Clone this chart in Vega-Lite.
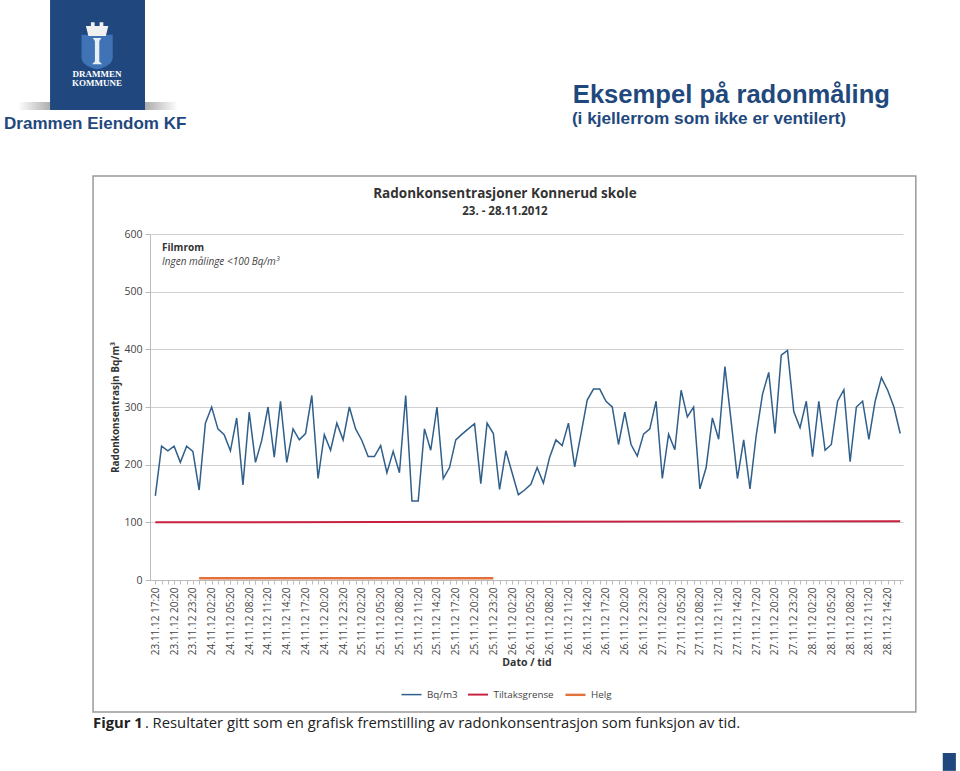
{"$schema":"https://vega.github.io/schema/vega-lite/v6.json","width":753,"height":346,"autosize":{"type":"none"},"padding":{"left":150,"top":234,"right":57,"bottom":191},"background":"#ffffff",
"datasets":{"radon":[
{"t":"2012-11-23T17:20:00","s":"Bq/m3","v":146},{"t":"2012-11-23T18:20:00","s":"Bq/m3","v":232},{"t":"2012-11-23T19:20:00","s":"Bq/m3","v":224},{"t":"2012-11-23T20:20:00","s":"Bq/m3","v":232},{"t":"2012-11-23T21:20:00","s":"Bq/m3","v":204},{"t":"2012-11-23T22:20:00","s":"Bq/m3","v":232},{"t":"2012-11-23T23:20:00","s":"Bq/m3","v":223},
{"t":"2012-11-24T00:20:00","s":"Bq/m3","v":156},{"t":"2012-11-24T01:20:00","s":"Bq/m3","v":272},{"t":"2012-11-24T02:20:00","s":"Bq/m3","v":300},{"t":"2012-11-24T03:20:00","s":"Bq/m3","v":262},{"t":"2012-11-24T04:20:00","s":"Bq/m3","v":252},{"t":"2012-11-24T05:20:00","s":"Bq/m3","v":224},{"t":"2012-11-24T06:20:00","s":"Bq/m3","v":281},{"t":"2012-11-24T07:20:00","s":"Bq/m3","v":165},{"t":"2012-11-24T08:20:00","s":"Bq/m3","v":291},{"t":"2012-11-24T09:20:00","s":"Bq/m3","v":204},{"t":"2012-11-24T10:20:00","s":"Bq/m3","v":242},{"t":"2012-11-24T11:20:00","s":"Bq/m3","v":300},{"t":"2012-11-24T12:20:00","s":"Bq/m3","v":213},{"t":"2012-11-24T13:20:00","s":"Bq/m3","v":310},{"t":"2012-11-24T14:20:00","s":"Bq/m3","v":204},{"t":"2012-11-24T15:20:00","s":"Bq/m3","v":262},{"t":"2012-11-24T16:20:00","s":"Bq/m3","v":243},{"t":"2012-11-24T17:20:00","s":"Bq/m3","v":254},{"t":"2012-11-24T18:20:00","s":"Bq/m3","v":320},{"t":"2012-11-24T19:20:00","s":"Bq/m3","v":176},{"t":"2012-11-24T20:20:00","s":"Bq/m3","v":252},{"t":"2012-11-24T21:20:00","s":"Bq/m3","v":225},{"t":"2012-11-24T22:20:00","s":"Bq/m3","v":272},{"t":"2012-11-24T23:20:00","s":"Bq/m3","v":243},
{"t":"2012-11-25T00:20:00","s":"Bq/m3","v":300},{"t":"2012-11-25T01:20:00","s":"Bq/m3","v":262},{"t":"2012-11-25T02:20:00","s":"Bq/m3","v":242},{"t":"2012-11-25T03:20:00","s":"Bq/m3","v":214},{"t":"2012-11-25T04:20:00","s":"Bq/m3","v":214},{"t":"2012-11-25T05:20:00","s":"Bq/m3","v":233},{"t":"2012-11-25T06:20:00","s":"Bq/m3","v":186},{"t":"2012-11-25T07:20:00","s":"Bq/m3","v":223},{"t":"2012-11-25T08:20:00","s":"Bq/m3","v":186},{"t":"2012-11-25T09:20:00","s":"Bq/m3","v":320},{"t":"2012-11-25T10:20:00","s":"Bq/m3","v":137},{"t":"2012-11-25T11:20:00","s":"Bq/m3","v":137},{"t":"2012-11-25T12:20:00","s":"Bq/m3","v":262},{"t":"2012-11-25T13:20:00","s":"Bq/m3","v":225},{"t":"2012-11-25T14:20:00","s":"Bq/m3","v":300},{"t":"2012-11-25T15:20:00","s":"Bq/m3","v":176},{"t":"2012-11-25T16:20:00","s":"Bq/m3","v":195},{"t":"2012-11-25T17:20:00","s":"Bq/m3","v":243},{"t":"2012-11-25T18:20:00","s":"Bq/m3","v":253},{"t":"2012-11-25T19:20:00","s":"Bq/m3","v":262},{"t":"2012-11-25T20:20:00","s":"Bq/m3","v":271},{"t":"2012-11-25T21:20:00","s":"Bq/m3","v":167},{"t":"2012-11-25T22:20:00","s":"Bq/m3","v":272},{"t":"2012-11-25T23:20:00","s":"Bq/m3","v":254},
{"t":"2012-11-26T00:20:00","s":"Bq/m3","v":157},{"t":"2012-11-26T01:20:00","s":"Bq/m3","v":224},{"t":"2012-11-26T02:20:00","s":"Bq/m3","v":186},{"t":"2012-11-26T03:20:00","s":"Bq/m3","v":148},{"t":"2012-11-26T04:20:00","s":"Bq/m3","v":156},{"t":"2012-11-26T05:20:00","s":"Bq/m3","v":166},{"t":"2012-11-26T06:20:00","s":"Bq/m3","v":195},{"t":"2012-11-26T07:20:00","s":"Bq/m3","v":168},{"t":"2012-11-26T08:20:00","s":"Bq/m3","v":213},{"t":"2012-11-26T09:20:00","s":"Bq/m3","v":243},{"t":"2012-11-26T10:20:00","s":"Bq/m3","v":233},{"t":"2012-11-26T11:20:00","s":"Bq/m3","v":272},{"t":"2012-11-26T12:20:00","s":"Bq/m3","v":196},{"t":"2012-11-26T13:20:00","s":"Bq/m3","v":253},{"t":"2012-11-26T14:20:00","s":"Bq/m3","v":312},{"t":"2012-11-26T15:20:00","s":"Bq/m3","v":331},{"t":"2012-11-26T16:20:00","s":"Bq/m3","v":331},{"t":"2012-11-26T17:20:00","s":"Bq/m3","v":310},{"t":"2012-11-26T18:20:00","s":"Bq/m3","v":300},{"t":"2012-11-26T19:20:00","s":"Bq/m3","v":235},{"t":"2012-11-26T20:20:00","s":"Bq/m3","v":291},{"t":"2012-11-26T21:20:00","s":"Bq/m3","v":235},{"t":"2012-11-26T22:20:00","s":"Bq/m3","v":215},{"t":"2012-11-26T23:20:00","s":"Bq/m3","v":253},
{"t":"2012-11-27T00:20:00","s":"Bq/m3","v":262},{"t":"2012-11-27T01:20:00","s":"Bq/m3","v":310},{"t":"2012-11-27T02:20:00","s":"Bq/m3","v":176},{"t":"2012-11-27T03:20:00","s":"Bq/m3","v":253},{"t":"2012-11-27T04:20:00","s":"Bq/m3","v":226},{"t":"2012-11-27T05:20:00","s":"Bq/m3","v":329},{"t":"2012-11-27T06:20:00","s":"Bq/m3","v":283},{"t":"2012-11-27T07:20:00","s":"Bq/m3","v":300},{"t":"2012-11-27T08:20:00","s":"Bq/m3","v":158},{"t":"2012-11-27T09:20:00","s":"Bq/m3","v":195},{"t":"2012-11-27T10:20:00","s":"Bq/m3","v":281},{"t":"2012-11-27T11:20:00","s":"Bq/m3","v":244},{"t":"2012-11-27T12:20:00","s":"Bq/m3","v":370},{"t":"2012-11-27T13:20:00","s":"Bq/m3","v":275},{"t":"2012-11-27T14:20:00","s":"Bq/m3","v":176},{"t":"2012-11-27T15:20:00","s":"Bq/m3","v":243},{"t":"2012-11-27T16:20:00","s":"Bq/m3","v":158},{"t":"2012-11-27T17:20:00","s":"Bq/m3","v":251},{"t":"2012-11-27T18:20:00","s":"Bq/m3","v":322},{"t":"2012-11-27T19:20:00","s":"Bq/m3","v":360},{"t":"2012-11-27T20:20:00","s":"Bq/m3","v":254},{"t":"2012-11-27T21:20:00","s":"Bq/m3","v":390},{"t":"2012-11-27T22:20:00","s":"Bq/m3","v":398},{"t":"2012-11-27T23:20:00","s":"Bq/m3","v":292},
{"t":"2012-11-28T00:20:00","s":"Bq/m3","v":264},{"t":"2012-11-28T01:20:00","s":"Bq/m3","v":310},{"t":"2012-11-28T02:20:00","s":"Bq/m3","v":214},{"t":"2012-11-28T03:20:00","s":"Bq/m3","v":310},{"t":"2012-11-28T04:20:00","s":"Bq/m3","v":225},{"t":"2012-11-28T05:20:00","s":"Bq/m3","v":235},{"t":"2012-11-28T06:20:00","s":"Bq/m3","v":310},{"t":"2012-11-28T07:20:00","s":"Bq/m3","v":330},{"t":"2012-11-28T08:20:00","s":"Bq/m3","v":205},{"t":"2012-11-28T09:20:00","s":"Bq/m3","v":300},{"t":"2012-11-28T10:20:00","s":"Bq/m3","v":310},{"t":"2012-11-28T11:20:00","s":"Bq/m3","v":244},{"t":"2012-11-28T12:20:00","s":"Bq/m3","v":310},{"t":"2012-11-28T13:20:00","s":"Bq/m3","v":351},{"t":"2012-11-28T14:20:00","s":"Bq/m3","v":329},{"t":"2012-11-28T15:20:00","s":"Bq/m3","v":300},{"t":"2012-11-28T16:20:00","s":"Bq/m3","v":254},
{"t":"2012-11-23T17:20:00","s":"Tiltaksgrense","v":100},{"t":"2012-11-28T16:20:00","s":"Tiltaksgrense","v":102},
{"t":"2012-11-24T00:20:00","s":"Helg","v":3},{"t":"2012-11-25T23:20:00","s":"Helg","v":3}
]},
"layer":[
{"data":{"values":[{"a":"frame"}]},"mark":{"type":"rect","fill":"transparent","stroke":"#9a9a9a","strokeWidth":1.5},"encoding":{"x":{"datum":{"year":2012,"month":11,"date":23,"hours":7,"minutes":23},"type":"temporal","scale":{"domain":["2012-11-23T16:29:00","2012-11-28T16:47:00"],"nice":false},"axis":{"title":"Dato / tid","titleFont":"Open Sans","titleFontSize":10.5,"titleFontWeight":"bold","titleColor":"#333333","titlePadding":3,"grid":false,"domainColor":"#bbbbbb","tickColor":"#bbbbbb","tickSize":4,"tickCount":120,"labelFont":"Open Sans","labelFontSize":10,"labelColor":"#444444","labelAngle":270,"labelAlign":"right","labelBaseline":"middle","labelPadding":3,"labelOverlap":false,"labelBound":false,"labelFlush":false,
"values":["2012-11-23T17:20:00","2012-11-23T18:20:00","2012-11-23T19:20:00","2012-11-23T20:20:00","2012-11-23T21:20:00","2012-11-23T22:20:00","2012-11-23T23:20:00","2012-11-24T00:20:00","2012-11-24T01:20:00","2012-11-24T02:20:00","2012-11-24T03:20:00","2012-11-24T04:20:00","2012-11-24T05:20:00","2012-11-24T06:20:00","2012-11-24T07:20:00","2012-11-24T08:20:00","2012-11-24T09:20:00","2012-11-24T10:20:00","2012-11-24T11:20:00","2012-11-24T12:20:00","2012-11-24T13:20:00","2012-11-24T14:20:00","2012-11-24T15:20:00","2012-11-24T16:20:00","2012-11-24T17:20:00","2012-11-24T18:20:00","2012-11-24T19:20:00","2012-11-24T20:20:00","2012-11-24T21:20:00","2012-11-24T22:20:00","2012-11-24T23:20:00","2012-11-25T00:20:00","2012-11-25T01:20:00","2012-11-25T02:20:00","2012-11-25T03:20:00","2012-11-25T04:20:00","2012-11-25T05:20:00","2012-11-25T06:20:00","2012-11-25T07:20:00","2012-11-25T08:20:00","2012-11-25T09:20:00","2012-11-25T10:20:00","2012-11-25T11:20:00","2012-11-25T12:20:00","2012-11-25T13:20:00","2012-11-25T14:20:00","2012-11-25T15:20:00","2012-11-25T16:20:00","2012-11-25T17:20:00","2012-11-25T18:20:00","2012-11-25T19:20:00","2012-11-25T20:20:00","2012-11-25T21:20:00","2012-11-25T22:20:00","2012-11-25T23:20:00","2012-11-26T00:20:00","2012-11-26T01:20:00","2012-11-26T02:20:00","2012-11-26T03:20:00","2012-11-26T04:20:00","2012-11-26T05:20:00","2012-11-26T06:20:00","2012-11-26T07:20:00","2012-11-26T08:20:00","2012-11-26T09:20:00","2012-11-26T10:20:00","2012-11-26T11:20:00","2012-11-26T12:20:00","2012-11-26T13:20:00","2012-11-26T14:20:00","2012-11-26T15:20:00","2012-11-26T16:20:00","2012-11-26T17:20:00","2012-11-26T18:20:00","2012-11-26T19:20:00","2012-11-26T20:20:00","2012-11-26T21:20:00","2012-11-26T22:20:00","2012-11-26T23:20:00","2012-11-27T00:20:00","2012-11-27T01:20:00","2012-11-27T02:20:00","2012-11-27T03:20:00","2012-11-27T04:20:00","2012-11-27T05:20:00","2012-11-27T06:20:00","2012-11-27T07:20:00","2012-11-27T08:20:00","2012-11-27T09:20:00","2012-11-27T10:20:00","2012-11-27T11:20:00","2012-11-27T12:20:00","2012-11-27T13:20:00","2012-11-27T14:20:00","2012-11-27T15:20:00","2012-11-27T16:20:00","2012-11-27T17:20:00","2012-11-27T18:20:00","2012-11-27T19:20:00","2012-11-27T20:20:00","2012-11-27T21:20:00","2012-11-27T22:20:00","2012-11-27T23:20:00","2012-11-28T00:20:00","2012-11-28T01:20:00","2012-11-28T02:20:00","2012-11-28T03:20:00","2012-11-28T04:20:00","2012-11-28T05:20:00","2012-11-28T06:20:00","2012-11-28T07:20:00","2012-11-28T08:20:00","2012-11-28T09:20:00","2012-11-28T10:20:00","2012-11-28T11:20:00","2012-11-28T12:20:00","2012-11-28T13:20:00","2012-11-28T14:20:00","2012-11-28T15:20:00","2012-11-28T16:20:00"],
"labelExpr":"hours(datum.value)%3==2 ? timeFormat(datum.value,'%d.%m.%y %H:%M') : ''"}},"x2":{"datum":{"year":2012,"month":11,"date":28,"hours":18,"minutes":50}},"y":{"datum":700.6,"type":"quantitative","scale":{"domain":[0,600],"nice":false},"axis":{"title":"Radonkonsentrasjn Bq/m³","titleFont":"Open Sans","titleFontSize":10,"titleFontWeight":"bold","titleColor":"#333333","titlePadding":3,"values":[0,100,200,300,400,500,600],"grid":true,"gridColor":"#cfcfcf","domainColor":"#bbbbbb","tickColor":"#bbbbbb","tickSize":5,"labelFont":"Open Sans","labelFontSize":10.5,"labelColor":"#444444","labelPadding":3}},"y2":{"datum":-229}}},
{"data":{"name":"radon"},"mark":{"type":"line","interpolate":"linear"},"encoding":{"x":{"field":"t","type":"temporal"},"y":{"field":"v","type":"quantitative"},"color":{"field":"s","type":"nominal","scale":{"domain":["Bq/m3","Tiltaksgrense","Helg"],"range":["#2f5f8a","#c8203f","#e2703a"]},"legend":{"title":null,"orient":"none","legendX":250,"legendY":449,"direction":"horizontal","columns":3,"symbolType":"stroke","symbolSize":400,"columnPadding":5.5,"labelFont":"Open Sans","labelFontSize":9.8,"labelColor":"#444444"}},"strokeWidth":{"field":"s","type":"nominal","scale":{"domain":["Bq/m3","Tiltaksgrense","Helg"],"range":[1.5,2.4,2.4]}},"order":{"field":"t","type":"temporal"}}},
{"data":{"values":[{"a":"Radonkonsentrasjoner  Konnerud skole"}]},"mark":{"type":"text","align":"center","baseline":"middle","font":"Open Sans","fontSize":13.5,"fontWeight":"bold","color":"#333333"},"encoding":{"x":{"datum":{"year":2012,"month":11,"date":26,"hours":1,"minutes":11},"type":"temporal"},"y":{"datum":669.3,"type":"quantitative"},"text":{"field":"a"}}},
{"data":{"values":[{"a":"23. - 28.11.2012"}]},"mark":{"type":"text","align":"center","baseline":"middle","font":"Open Sans","fontSize":11.5,"fontWeight":"bold","color":"#333333"},"encoding":{"x":{"datum":{"year":2012,"month":11,"date":26,"hours":1,"minutes":11},"type":"temporal"},"y":{"datum":638,"type":"quantitative"},"text":{"field":"a"}}},
{"data":{"values":[{"a":"Filmrom"}]},"mark":{"type":"text","align":"left","baseline":"middle","font":"Open Sans","fontSize":10,"fontWeight":"bold","color":"#333333"},"encoding":{"x":{"datum":{"year":2012,"month":11,"date":23,"hours":18,"minutes":24},"type":"temporal"},"y":{"datum":575.7,"type":"quantitative"},"text":{"field":"a"}}},
{"data":{"values":[{"a":"Ingen målinge <100 Bq/m³"}]},"mark":{"type":"text","align":"left","baseline":"middle","font":"Open Sans","fontSize":10,"fontStyle":"italic","color":"#444444"},"encoding":{"x":{"datum":{"year":2012,"month":11,"date":23,"hours":18,"minutes":24},"type":"temporal"},"y":{"datum":551,"type":"quantitative"},"text":{"field":"a"}}},
{"data":{"values":[{"a":"shadow"}]},"mark":{"type":"rect","fill":{"x1":0,"y1":0,"x2":1,"y2":0,"gradient":"linear","stops":[{"offset":0,"color":"#ffffff"},{"offset":0.25,"color":"#9a9a9a"},{"offset":0.75,"color":"#9a9a9a"},{"offset":1,"color":"#ffffff"}]}},"encoding":{"x":{"datum":{"year":2012,"month":11,"date":22,"hours":19,"minutes":24},"type":"temporal"},"x2":{"datum":{"year":2012,"month":11,"date":23,"hours":20,"minutes":58}},"y":{"datum":829,"type":"quantitative"},"y2":{"datum":815}}},
{"data":{"values":[{"a":"logo"}]},"mark":{"type":"rect","fill":"#20487f"},"encoding":{"x":{"datum":{"year":2012,"month":11,"date":23,"hours":0,"minutes":31},"type":"temporal"},"x2":{"datum":{"year":2012,"month":11,"date":23,"hours":15,"minutes":41}},"y":{"datum":1005.8,"type":"quantitative"},"y2":{"datum":815}}},
{"data":{"values":[{"a":"shield"}]},"mark":{"type":"point","filled":true,"opacity":1,"fill":"#3f73b5","size":1200,"shape":"M-0.9,-1 L0.9,-1 L0.9,0.3 Q0.9,0.8 0,1 Q-0.9,0.8 -0.9,0.3 Z"},"encoding":{"x":{"datum":{"year":2012,"month":11,"date":23,"hours":8,"minutes":2},"type":"temporal"},"y":{"datum":915.7,"type":"quantitative"}}},
{"data":{"values":[{"a":"crown"}]},"mark":{"type":"point","filled":true,"opacity":1,"fill":"#f0f0f0","size":620,"shape":"M-0.9,-0.4 L-0.5,-0.4 L-0.5,-0.7 L-0.2,-0.7 L-0.2,-0.4 L0.2,-0.4 L0.2,-0.7 L0.5,-0.7 L0.5,-0.4 L0.9,-0.4 L0.7,0.4 L-0.7,0.4 Z"},"encoding":{"x":{"datum":{"year":2012,"month":11,"date":23,"hours":8,"minutes":2},"type":"temporal"},"y":{"datum":952,"type":"quantitative"}}},
{"data":{"values":[{"a":"column"}]},"mark":{"type":"point","filled":true,"opacity":1,"fill":"#e8eef5","size":850,"shape":"M-0.3,-0.9 L0.3,-0.9 L0.15,-0.7 L0.15,0.7 L0.35,0.9 L-0.35,0.9 L-0.15,0.7 L-0.15,-0.7 Z"},"encoding":{"x":{"datum":{"year":2012,"month":11,"date":23,"hours":8,"minutes":2},"type":"temporal"},"y":{"datum":917,"type":"quantitative"}}},
{"data":{"values":[{"a":"DRAMMEN","p":878},{"a":"KOMMUNE","p":862.6}]},"mark":{"type":"text","align":"center","baseline":"middle","font":"Liberation Serif","fontSize":9,"fontWeight":"bold","color":"#ffffff"},"encoding":{"x":{"datum":{"year":2012,"month":11,"date":23,"hours":8,"minutes":2},"type":"temporal"},"y":{"field":"p","type":"quantitative"},"text":{"field":"a"}}},
{"data":{"values":[{"a":"Drammen  Eiendom KF"}]},"mark":{"type":"text","align":"left","baseline":"middle","font":"Liberation Sans","fontSize":17,"fontWeight":"bold","color":"#1f497d"},"encoding":{"x":{"datum":{"year":2012,"month":11,"date":22,"hours":17,"minutes":10},"type":"temporal"},"y":{"datum":790.7,"type":"quantitative"},"text":{"field":"a"}}},
{"data":{"values":[{"a":"Eksempel på radonmåling"}]},"mark":{"type":"text","align":"left","baseline":"middle","font":"Liberation Sans","fontSize":25.6,"fontWeight":"bold","color":"#1f497d"},"encoding":{"x":{"datum":{"year":2012,"month":11,"date":26,"hours":12,"minutes":2},"type":"temporal"},"y":{"datum":841,"type":"quantitative"},"text":{"field":"a"}}},
{"data":{"values":[{"a":"(i kjellerrom som ikke er ventilert)"}]},"mark":{"type":"text","align":"left","baseline":"middle","font":"Liberation Sans","fontSize":17.2,"fontWeight":"bold","color":"#1f497d"},"encoding":{"x":{"datum":{"year":2012,"month":11,"date":26,"hours":11,"minutes":53},"type":"temporal"},"y":{"datum":799,"type":"quantitative"},"text":{"field":"a"}}},
{"data":{"values":[{"a":"Figur 1"}]},"mark":{"type":"text","align":"left","baseline":"middle","font":"Open Sans","fontSize":14.8,"fontWeight":"bold","color":"#222222"},"encoding":{"x":{"datum":{"year":2012,"month":11,"date":23,"hours":7,"minutes":23},"type":"temporal"},"y":{"datum":-250,"type":"quantitative"},"text":{"field":"a"}}},
{"data":{"values":[{"a":". Resultater gitt som en grafisk fremstilling av radonkonsentrasjon som funksjon av tid."}]},"mark":{"type":"text","align":"left","baseline":"middle","font":"Open Sans","fontSize":14.8,"color":"#222222"},"encoding":{"x":{"datum":{"year":2012,"month":11,"date":23,"hours":15,"minutes":40},"type":"temporal"},"y":{"datum":-250,"type":"quantitative"},"text":{"field":"a"}}},
{"data":{"values":[{"a":"corner"}]},"mark":{"type":"rect","fill":"#20487f"},"encoding":{"x":{"datum":{"year":2012,"month":11,"date":28,"hours":23,"minutes":8},"type":"temporal"},"x2":{"datum":{"year":2012,"month":11,"date":29,"hours":1,"minutes":14}},"y":{"datum":-300,"type":"quantitative"},"y2":{"datum":-331}}}
],
"config":{"view":{"stroke":null}}}
